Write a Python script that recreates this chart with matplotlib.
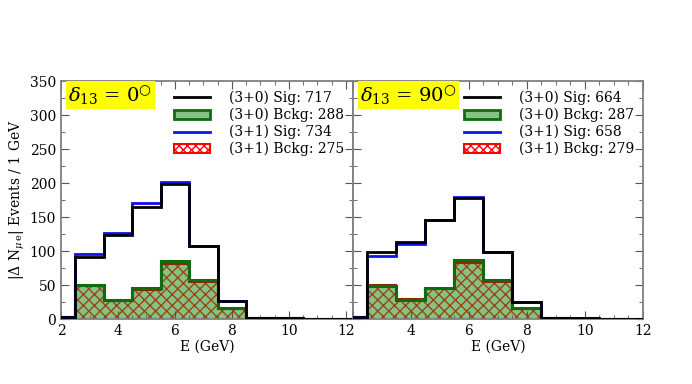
import numpy as np
import matplotlib
matplotlib.use("Agg")
import matplotlib.pyplot as plt
from matplotlib.patches import Patch
from matplotlib.lines import Line2D

plt.rcParams['font.family'] = ['DejaVu Serif']
plt.rcParams['mathtext.fontset'] = 'dejavuserif'
plt.rcParams['hatch.linewidth'] = 1.0

edges = np.arange(1.5, 13.0, 1.0)
panel_titles = [r'$\delta_{13}$ = 0$^{\bigcirc}$', r'$\delta_{13}$ = 90$^{\bigcirc}$']

left_sig30 = [3, 92, 123, 165, 198, 107, 26, 2, 1, 0, 0]
left_sig31 = [3, 95, 127, 170, 202, 107, 27, 2, 1, 0, 0]
left_bk30 = [3, 50, 28, 45, 86, 57, 16, 2, 1, 0, 0]
left_bk31 = [3, 49, 27, 43, 81, 54, 15, 2, 1, 0, 0]
left_totals = [717, 288, 734, 275]

right_sig30 = [3, 98, 113, 146, 178, 98, 25, 2, 1, 0, 0]
right_sig31 = [3, 93, 110, 146, 180, 98, 25, 2, 1, 0, 0]
right_bk30 = [3, 49, 28, 45, 87, 58, 16, 1, 0, 0, 0]
right_bk31 = [3, 50, 29, 44, 82, 55, 15, 1, 0, 0, 0]
right_totals = [664, 287, 658, 279]

fig = plt.figure(figsize=(6.92, 3.84), dpi=100)
axL = fig.add_axes([0.0882, 0.169, 0.4218, 0.62])
axR = fig.add_axes([0.510, 0.169, 0.419, 0.62])

panels = [
    (axL, left_sig30, left_sig31, left_bk30, left_bk31, left_totals, (2, 12.25)),
    (axR, right_sig30, right_sig31, right_bk30, right_bk31, right_totals, (2, 12)),
]

green_fill = '#86c286'
dark_green = '#0f6b0f'

for i, (ax, s30, s31, b30, b31, tot, xl) in enumerate(panels):
    ax.stairs(b30, edges, fill=True, facecolor=green_fill, edgecolor='none', zorder=1)
    ax.stairs(b31, edges, fill=True, facecolor='none', edgecolor=(0.62, 0.22, 0.02, 0.9),
              hatch='xxx', linewidth=0, zorder=2)
    ax.stairs(b31, edges, fill=False, color='#8b2a00', linewidth=1.5, zorder=2.5)
    ax.stairs(b30, edges, fill=False, color=dark_green, linewidth=2.2, zorder=3)
    ax.stairs(s31, edges, fill=False, color='#1010ee', linewidth=2.0, zorder=4)
    ax.stairs(s30, edges, fill=False, color='black', linewidth=2.0, zorder=5)

    ax.set_xlim(*xl)
    ax.set_ylim(0, 350)
    ax.set_xticks([2, 4, 6, 8, 10, 12])
    ax.set_xticks(np.arange(2, 12.01, 0.5), minor=True)
    ax.set_yticks(np.arange(0, 351, 50))
    ax.set_yticks(np.arange(0, 351, 25), minor=True)
    ax.tick_params(which='both', direction='in', top=True, right=True, labelsize=10,
                   color='#555555')
    ax.tick_params(which='major', length=6)
    ax.tick_params(which='minor', length=3)
    for sp in ax.spines.values():
        sp.set_color('#808080')
        sp.set_linewidth(1.3)
    ax.set_xlabel('E (GeV)', fontsize=10, labelpad=1)

    ax.text(0.025, 0.99, panel_titles[i], transform=ax.transAxes, fontsize=14,
            va='top', ha='left', zorder=10,
            bbox=dict(boxstyle='square,pad=0.12', facecolor='#ffff00', edgecolor='none'))

    handles = [
        Line2D([0], [0], color='black', lw=2),
        Patch(facecolor=green_fill, edgecolor=dark_green, linewidth=2),
        Line2D([0], [0], color='#1010ee', lw=2),
        Patch(facecolor='white', edgecolor='red', hatch='xxxx', linewidth=1.5),
    ]
    labels = ['(3+0) Sig: %d' % tot[0], '(3+0) Bckg: %d' % tot[1],
              '(3+1) Sig: %d' % tot[2], '(3+1) Bckg: %d' % tot[3]]
    ax.legend(handles, labels, loc='upper right', frameon=False, fontsize=10,
              handlelength=2.6, handleheight=0.6, labelspacing=0.2,
              borderaxespad=0.2, handletextpad=1.4, bbox_to_anchor=(1.0, 0.995))

axR.tick_params(labelleft=False)
axR.set_xticks([2, 4, 6, 8, 10, 12], ['', '4', '6', '8', '10', '12'])
axL.set_ylabel(r'|$\Delta$ N$_{\mu\,\mathrm{e}}$| Events / 1 GeV', fontsize=10, labelpad=2)

fig.savefig('out.png', dpi=100)
